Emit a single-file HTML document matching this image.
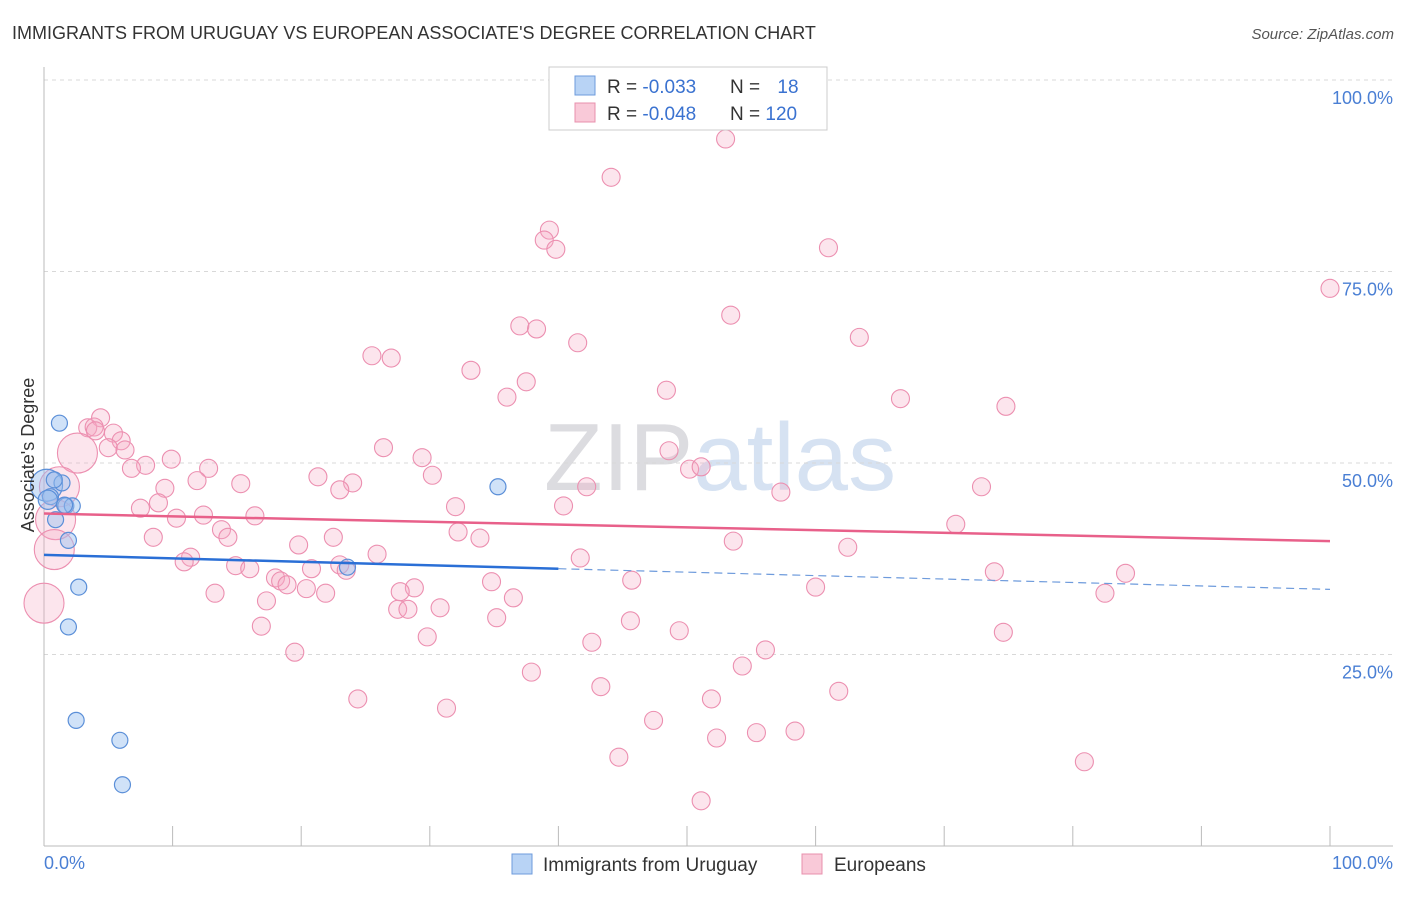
<!DOCTYPE html>
<html><head><meta charset="utf-8"><style>
body{margin:0;background:#fff;font-family:"Liberation Sans",sans-serif;}
svg text{font-family:"Liberation Sans",sans-serif;}
</style></head><body>
<svg id="chart" width="1406" height="892" xmlns="http://www.w3.org/2000/svg">
<text x="12" y="39" font-size="18" fill="#333">IMMIGRANTS FROM URUGUAY VS EUROPEAN ASSOCIATE'S DEGREE CORRELATION CHART</text>
<text x="1394" y="39" font-size="15" fill="#555" font-style="italic" text-anchor="end">Source: ZipAtlas.com</text>
<text x="720" y="490" font-size="96" fill="#e4e4ea" text-anchor="middle" font-family="Liberation Serif"><tspan fill="#dcdce0">ZIP</tspan><tspan fill="#d6e2f2" font-family="Liberation Sans">atlas</tspan></text>
<g id="grid"></g>
<g id="axes"></g>
<g id="pts"></g>
<g id="lines"></g>
<text transform="translate(34,455) rotate(-90)" font-size="18" fill="#333" text-anchor="middle">Associate's Degree</text>
<text x="44" y="869" font-size="18" fill="#4a7fd4">0.0%</text>
<text x="1393" y="869" font-size="18" fill="#4a7fd4" text-anchor="end">100.0%</text>
<g>
<rect x="549" y="67" width="278" height="63" fill="#fff" stroke="#ccc"/>
<rect x="575" y="76" width="20" height="19" fill="#b8d3f5" stroke="#6e9bdc"/>
<rect x="575" y="103" width="20" height="19" fill="#f9c9d8" stroke="#e890ad"/>
<text x="607" y="93" font-size="19" fill="#333">R = <tspan fill="#3a72d0">-0.033</tspan></text>
<text x="730" y="93" font-size="19" fill="#333">N = <tspan fill="#3a72d0" dx="12">18</tspan></text>
<text x="607" y="120" font-size="19" fill="#333">R = <tspan fill="#3a72d0">-0.048</tspan></text>
<text x="730" y="120" font-size="19" fill="#333">N = <tspan fill="#3a72d0">120</tspan></text>
</g>
<g>
<rect x="512" y="854" width="20" height="20" fill="#b8d3f5" stroke="#6e9bdc"/>
<text x="543" y="871" font-size="19" fill="#333">Immigrants from Uruguay</text>
<rect x="802" y="854" width="20" height="20" fill="#f9c9d8" stroke="#e890ad"/>
<text x="834" y="871" font-size="19" fill="#333">Europeans</text>
</g>
</svg>
<script>
const yTicks=[100,75,50,25];
const yTickLabels=["100.0%","75.0%","50.0%","25.0%"];
const blueX=[1.2,0.2,1.4,0.5,0.3,0.9,1.7,2.2,1.9,2.7,1.9,2.5,5.9,6.1,35.3,23.6,0.8,1.6];
const blueY=[55.2,47.1,47.4,45.6,45.2,42.6,44.4,44.4,39.9,33.8,28.6,16.4,13.8,8.0,46.9,36.4,47.8,44.5];
const blueW=[1,2,1,1,1.2,1,1,1,1,1,1,1,1,1,1,1,1,1];
const pinkX=[53.0,44.1,39.3,38.9,39.8,61.0,100,37.0,38.3,53.4,41.5,63.4,25.5,27.0,33.2,37.5,36.0,48.4,66.6,74.8,4.4,3.4,3.9,5.4,6.0,5.0,6.3,2.6,26.4,29.4,9.9,7.9,6.8,12.8,48.6,50.2,51.1,21.3,30.2,11.9,15.3,9.4,24.0,23.0,42.2,57.3,72.9,1.2,8.9,7.5,32.0,40.4,10.3,12.4,16.4,0.9,13.8,14.3,8.5,32.2,33.9,70.9,53.6,22.5,19.8,62.5,0.8,11.4,10.9,25.9,41.7,14.9,16.0,20.8,23.0,23.5,18.0,18.4,18.9,73.9,84.1,34.8,45.7,13.3,20.4,21.9,28.8,27.7,60.0,82.5,17.3,36.5,27.5,28.3,30.8,0,35.2,45.6,16.9,49.4,74.6,29.8,42.6,19.5,56.1,54.3,37.9,43.3,61.8,24.4,51.9,31.3,47.4,58.4,55.4,52.3,44.7,80.9,51.1,4.0];
const pinkY=[92.3,87.3,80.4,79.1,77.9,78.1,72.8,67.9,67.5,69.3,65.7,66.4,64.0,63.7,62.1,60.6,58.6,59.5,58.4,57.4,55.9,54.6,54.7,53.9,52.9,52.0,51.7,51.3,52.0,50.7,50.5,49.7,49.3,49.3,51.6,49.2,49.5,48.2,48.4,47.7,47.3,46.7,47.4,46.5,46.9,46.2,46.9,46.9,44.8,44.1,44.3,44.4,42.8,43.2,43.1,42.6,41.3,40.3,40.3,41.0,40.2,42.0,39.8,40.3,39.3,39.0,38.7,37.7,37.1,38.1,37.6,36.6,36.2,36.2,36.7,36.0,35.0,34.6,34.1,35.8,35.6,34.5,34.7,33.0,33.6,33.0,33.7,33.2,33.8,33.0,32.0,32.4,30.9,30.9,31.1,31.7,29.8,29.4,28.7,28.1,27.9,27.3,26.6,25.3,25.6,23.5,22.7,20.8,20.2,19.2,19.2,18.0,16.4,15.0,14.8,14.1,11.6,11.0,5.9,54.2];
const pinkBig=[27,47,55,66,95];
const blueTrend=[38.0,33.5];
const pinkTrend=[43.4,39.8];
const X0=44,X1=1330,Y0=846,Y1=80;
const sx=v=>X0+(X1-X0)*v/100;
const sy=v=>Y0-(Y0-Y1)*v/100;
const NS="http://www.w3.org/2000/svg";
function mk(tag,attrs,parent){const e=document.createElementNS(NS,tag);for(const k in attrs)e.setAttribute(k,attrs[k]);document.getElementById(parent).appendChild(e);return e;}
yTicks.forEach((t,i)=>{
  const g=mk('line',{x1:44,x2:1393,y1:sy(t),y2:sy(t),stroke:'#d8d8d8','stroke-dasharray':'4,4'},'grid');
  
  
  const tx=mk('text',{x:1393,y:sy(t)+24,'font-size':18,fill:'#4a7fd4','text-anchor':'end'},'grid');
  tx.textContent=yTickLabels[i];
  
  
});
const ax=mk('line',{x1:44,x2:1393,y1:846,y2:846,stroke:'#bbb'},'axes');


const ay=mk('line',{x1:44,x2:44,y1:67,y2:846,stroke:'#bbb'},'axes');


for(let i=1;i<=10;i++){
  const t=mk('line',{x1:sx(i*10),x2:sx(i*10),y1:826,y2:846,stroke:'#bbb'},'axes');
  
  
}
pinkX.forEach((x,i)=>{
  const r=pinkBig.includes(i)?20:9;
  const c=mk('circle',{cx:sx(x),cy:sy(pinkY[i]),r:r,fill:'rgba(246,170,195,0.3)',stroke:'#ec8fb0','stroke-width':1.1},'pts');
  
  
});
blueX.forEach((x,i)=>{
  const c=mk('circle',{cx:sx(x),cy:sy(blueY[i]),r:8*blueW[i],fill:'rgba(150,190,240,0.45)',stroke:'#5b8fd8','stroke-width':1.2},'pts');
  
  
});
const pl=mk('line',{x1:sx(0),y1:sy(pinkTrend[0]),x2:sx(100),y2:sy(pinkTrend[1]),stroke:'#e8608a','stroke-width':2.5},'lines');


const bAt=v=>blueTrend[0]+(blueTrend[1]-blueTrend[0])*v/100;
const bl=mk('line',{x1:sx(0),y1:sy(bAt(0)),x2:sx(40),y2:sy(bAt(40)),stroke:'#2a6fd6','stroke-width':2.5},'lines');


const bd=mk('line',{x1:sx(40),y1:sy(bAt(40)),x2:sx(100),y2:sy(bAt(100)),stroke:'#6e9bdc','stroke-width':1.2,'stroke-dasharray':'8,5'},'lines');


</script>
</body></html>
